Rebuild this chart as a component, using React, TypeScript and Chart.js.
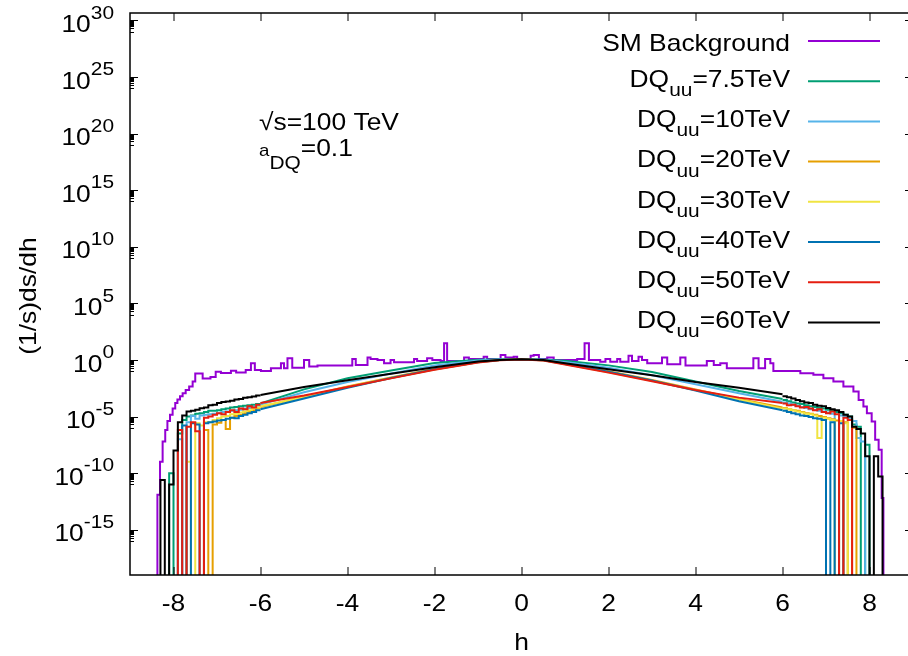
import React, { useEffect, useRef } from 'react';
import { Chart, registerables } from 'chart.js';

Chart.register(...registerables);

// ---------- axes ----------
const X_MIN = -9;
const X_MAX = 9;
const Y_MIN_EXP = -19;
const Y_MAX_EXP = 30.65;
const X_TICKS = [-8, -6, -4, -2, 0, 2, 4, 6, 8];
const Y_TICK_EXPS = [30, 25, 20, 15, 10, 5, 0, -5, -10, -15];

// value used for empty histogram bins (below the axis range)
const EMPTY = 1e-30;

// ---------- SM background histogram: [bin start h, log10 value | null] ----------
const smBins: [number, number | null][] = [
  [-9.0, null], [-8.37, -11.9], [-8.31, -9.0], [-8.25, -7.2], [-8.19, -6.2], [-8.14, -5.4],
  [-8.08, -4.85], [-8.02, -4.3], [-7.96, -3.8], [-7.91, -3.5], [-7.85, -3.2], [-7.79, -2.95],
  [-7.72, -2.65], [-7.64, -2.35], [-7.56, -1.9], [-7.5, -1.2], [-7.33, -1.65], [-7.15, -1.5],
  [-7.03, -1.05], [-6.91, -1.15], [-6.68, -0.95], [-6.56, -1.1], [-6.34, -0.88], [-6.22, -0.3],
  [-6.13, -0.9], [-5.99, -0.97], [-5.76, -0.74], [-5.53, -0.3], [-5.46, -0.74], [-5.38, 0.15],
  [-5.27, -0.68], [-5.0, 0.0], [-4.88, -0.59], [-4.69, -0.5], [-3.89, 0.09], [-3.81, -0.44],
  [-3.54, 0.21], [-3.47, 0.09], [-3.31, 0.0], [-3.16, -0.29], [-3.01, 0.0], [-2.93, -0.21],
  [-2.47, 0.09], [-2.4, -0.09], [-2.17, 0.15], [-2.05, 0.0], [-1.86, -0.09], [-1.78, 1.47],
  [-1.71, -0.09], [-1.32, 0.21], [-1.21, 0.09], [-0.87, 0.29], [-0.79, 0.09], [-0.48, 0.44],
  [-0.37, 0.21], [-0.18, 0.29], [-0.1, 0.09], [0.21, 0.38], [0.28, 0.44], [0.4, 0.09],
  [0.59, 0.21], [0.74, 0.0], [1.28, 0.09], [1.45, 1.47], [1.55, 0.0], [1.81, -0.15],
  [1.93, 0.09], [2.04, -0.15], [2.2, 0.09], [2.27, -0.15], [2.46, 0.38], [2.54, -0.09],
  [2.69, 0.29], [2.77, 0.0], [2.89, -0.29], [3.23, 0.21], [3.35, -0.38], [3.65, 0.21],
  [3.77, -0.5], [4.26, -0.09], [4.42, -0.44], [4.57, -0.29], [4.72, -0.74], [5.33, 0.15],
  [5.45, -0.74], [5.6, 0.09], [5.72, -0.29], [5.79, -0.97], [6.41, -1.18], [6.71, -1.3],
  [6.94, -1.62], [7.17, -1.91], [7.4, -2.35], [7.63, -2.79], [7.75, -3.53], [7.86, -4.12],
  [7.94, -4.71], [8.05, -5.44], [8.13, -7.06], [8.21, -7.94], [8.28, -12.2], [8.32, null],
];
const SM_END = 9;

// ---------- DQ histograms ----------
// edge regions: 0.1-wide bins, log10 values (null = empty bin)
const EDGE_BIN = 0.1;
const LEFT_EDGE_START = -8.4; // 24 bins up to -6.0
const RIGHT_EDGE_START = 6.0; // 24 bins up to 8.4
// central region: log10 values at these h
const MID_H = [-6, -5, -4, -3, -2, -1, -0.5, 0, 0.5, 1, 2, 3, 4, 5, 6];

const dq75Left = [null, null, null, -10.0, null, -6.5, -5.3, -5.0, -4.9, -4.75, -4.7, -4.6, -4.5, -4.5, -4.45, -4.35, -4.3, -4.2, -4.15, -4.1, -4.05, -4.0, -3.95, -3.9];
const dq75Mid = [-3.85, -2.6, -1.62, -0.93, -0.28, 0.02, 0.05, 0.05, 0.03, -0.08, -0.48, -1.07, -1.9, -2.75, -3.45];
const dq75Right = [-3.55, -3.65, -3.75, -3.85, -3.9, -4.0, -4.1, -4.15, -4.25, -4.3, -4.4, -4.5, -4.6, -4.7, -4.85, -5.0, -5.7, -5.9, null, -7.5, null, null, null, null];

const dq10Left = [null, null, null, null, null, -7.0, null, -5.5, -4.95, -5.2, -4.9, -4.85, -4.8, -4.75, -4.7, -4.6, -4.55, -4.5, -4.45, -4.4, -4.3, -4.25, -4.15, -4.05];
const dq10Mid = [-3.95, -2.85, -1.95, -1.2, -0.5, -0.06, 0.03, 0.04, 0.02, -0.18, -0.7, -1.35, -2.15, -2.95, -3.7];
const dq10Right = [-3.75, -3.85, -3.95, -4.05, -4.15, -4.25, -4.35, -4.4, -4.5, -4.55, -4.65, -4.75, null, -4.9, -5.0, -5.2, -5.4, -6.9, -7.2, null, null, null, null, null];

const dq20Left = [null, null, null, null, null, null, null, null, null, null, null, -6.2, null, -5.7, -5.55, -5.3, -6.1, -5.1, -4.95, -4.85, -4.7, -4.6, -4.45, -4.3];
const dq20Mid = [-4.15, -3.25, -2.35, -1.55, -0.78, -0.18, 0.0, 0.03, -0.02, -0.32, -1.0, -1.78, -2.6, -3.45, -4.2];
const dq20Right = [-4.25, -4.35, -4.45, -4.5, -4.6, -4.7, -4.75, -4.85, -4.95, -5.05, -5.15, -5.25, -5.35, null, -5.5, null, -6.0, null, null, null, null, null, null, null];

const dq30Left = [null, null, null, null, null, null, null, -9.0, null, -5.6, -5.8, -5.5, -5.5, -5.3, -5.15, -5.0, -4.95, -4.8, -4.75, -4.65, -4.55, -4.45, -4.3, -4.2];
const dq30Mid = [-4.1, -3.3, -2.4, -1.6, -0.84, -0.2, 0.0, 0.03, -0.03, -0.36, -1.08, -1.85, -2.65, -3.5, -4.3];
const dq30Right = [-4.3, -4.35, -4.45, -4.55, -4.65, -4.75, -4.8, -4.9, -6.9, -5.1, -5.2, -5.3, null, -5.4, -5.6, null, null, null, null, null, null, null, null, null];

const dq40Left = [null, null, null, null, null, null, -5.8, null, -5.6, -5.7, null, -5.6, -5.5, -5.45, -5.35, -5.3, -5.2, -5.1, -5.15, -4.95, -4.85, -4.7, -4.6, -4.45];
const dq40Mid = [-4.35, -3.4, -2.45, -1.6, -0.82, -0.2, 0.0, 0.03, -0.03, -0.35, -1.05, -1.82, -2.7, -3.65, -4.45];
const dq40Right = [-4.5, -4.6, -4.7, -4.8, -4.9, -4.95, -5.05, -5.15, -5.2, -5.3, null, -5.5, null, -5.6, null, null, null, null, null, null, null, null, null, null];

const dq50Left = [null, null, null, null, null, -6.2, null, -5.9, -5.5, -6.3, null, -5.1, -5.0, -4.85, -4.7, -4.8, -4.6, -4.45, -4.6, -4.3, -4.35, -4.1, -4.2, -3.95];
const dq50Mid = [-3.8, -3.15, -2.4, -1.63, -0.87, -0.22, -0.02, 0.03, -0.05, -0.4, -1.12, -1.88, -2.65, -3.33, -3.8];
const dq50Right = [-3.85, -4.0, -3.95, -4.1, -4.2, -4.15, -4.3, -4.45, -4.35, -4.6, -4.7, -4.55, -4.8, null, -5.1, -5.3, null, null, null, null, null, null, null, null];

const dq60Left = [null, -10.6, null, -11.0, -8.0, -5.5, -4.9, -4.55, -4.5, -4.4, -4.27, -4.2, -4.0, -3.95, -3.8, -3.72, -3.68, -3.6, -3.5, -3.45, -3.35, -3.3, -3.22, -3.15];
const dq60Mid = [-3.1, -2.4, -1.8, -1.23, -0.65, -0.14, 0.0, 0.05, 0.0, -0.3, -0.83, -1.36, -1.95, -2.45, -3.03];
const dq60Right = [-3.2, -3.3, -3.4, -3.55, -3.65, -3.75, -3.8, -3.95, -4.05, -4.1, -4.25, -4.35, -4.45, -4.6, -4.85, -5.0, -5.9, -6.1, -6.5, -8.5, null, -8.5, -10.3, null];

const SM_LABEL = 'SM Background';
const SM_COLOR = '#9400d3';

const DQ_VALUES = ['=7.5TeV', '=10TeV', '=20TeV', '=30TeV', '=40TeV', '=50TeV', '=60TeV'];
const DQ_COLORS = ['#009e73', '#56b4e9', '#e69f00', '#f0e442', '#0072b2', '#e51e10', '#000000'];
const DQ_LEFT = [dq75Left, dq10Left, dq20Left, dq30Left, dq40Left, dq50Left, dq60Left];
const DQ_MID = [dq75Mid, dq10Mid, dq20Mid, dq30Mid, dq40Mid, dq50Mid, dq60Mid];
const DQ_RIGHT = [dq75Right, dq10Right, dq20Right, dq30Right, dq40Right, dq50Right, dq60Right];

// ---------- layout ----------
const CANVAS_W = 930;
const CANVAS_H = 656;
const AREA = { left: 130, top: 13, right: 913, bottom: 575 };
const FONT = '"Liberation Sans", Arial, Helvetica, sans-serif';
const SX = 1.1;
const MAIN = 24;
const SMALL = 19;

const toVal = (v: number | null) => (v === null ? EMPTY : Math.pow(10, v));
const r3 = (v: number) => Math.round(v * 1000) / 1000;

function binsToPoints(start: number, vals: (number | null)[]) {
  const pts = vals.map((v, i) => ({ x: r3(start + i * EDGE_BIN), y: toVal(v) }));
  pts.push({ x: r3(start + vals.length * EDGE_BIN), y: pts[pts.length - 1].y });
  return pts;
}

type Seg = { t: string; size: number; dy?: number };

function drawRich(ctx: CanvasRenderingContext2D, segs: Seg[], x: number, y: number, align: 'left' | 'right' | 'center') {
  const widths = segs.map((s) => {
    ctx.font = `${s.size}px ${FONT}`;
    return ctx.measureText(s.t).width * SX;
  });
  const total = widths.reduce((a, b) => a + b, 0);
  let cx = align === 'right' ? x - total : align === 'center' ? x - total / 2 : x;
  segs.forEach((s, i) => {
    ctx.save();
    ctx.font = `${s.size}px ${FONT}`;
    ctx.textAlign = 'left';
    ctx.textBaseline = 'alphabetic';
    ctx.fillStyle = '#000';
    ctx.translate(cx, y + (s.dy || 0));
    ctx.scale(SX, 1);
    ctx.fillText(s.t, 0, 0);
    ctx.restore();
    cx += widths[i];
  });
}

const gnuplotDecor = {
  id: 'gnuplotDecor',
  afterDraw(chart: any) {
    const ctx: CanvasRenderingContext2D = chart.ctx;
    const a = chart.chartArea;
    const xs = chart.scales.x;
    const ys = chart.scales.y;
    ctx.save();

    // tick marks (inward, mirrored)
    ctx.strokeStyle = '#000';
    ctx.lineWidth = 1;
    ctx.beginPath();
    X_TICKS.forEach((v) => {
      const px = Math.round(xs.getPixelForValue(v));
      ctx.moveTo(px, a.bottom);
      ctx.lineTo(px, a.bottom - 8);
      ctx.moveTo(px, a.top);
      ctx.lineTo(px, a.top + 8);
    });
    Y_TICK_EXPS.forEach((e) => {
      const py = Math.round(ys.getPixelForValue(Math.pow(10, e))) + 0.5;
      ctx.moveTo(a.left, py);
      ctx.lineTo(a.left + 8, py);
      ctx.moveTo(a.right, py);
      ctx.lineTo(a.right - 8, py);
      for (let k = 1; k <= 9; k++) {
        const pm = Math.round(ys.getPixelForValue(k * Math.pow(10, e - 1))) + 0.5;
        if (pm > a.bottom) continue;
        ctx.moveTo(a.left, pm);
        ctx.lineTo(a.left + 4, pm);
        ctx.moveTo(a.right, pm);
        ctx.lineTo(a.right - 4, pm);
      }
    });
    ctx.stroke();

    // frame
    ctx.lineWidth = 1.5;
    ctx.strokeRect(a.left, a.top, a.right - a.left, a.bottom - a.top);

    // x tick labels
    X_TICKS.forEach((v) => {
      drawRich(ctx, [{ t: String(v), size: MAIN }], xs.getPixelForValue(v), a.bottom + 35.5, 'center');
    });
    // y tick labels
    Y_TICK_EXPS.forEach((e) => {
      const py = ys.getPixelForValue(Math.pow(10, e));
      drawRich(ctx, [{ t: '10', size: MAIN }, { t: String(e), size: SMALL, dy: -13.4 }], 114, py + 11.7, 'right');
    });
    // axis titles
    drawRich(ctx, [{ t: 'h', size: MAIN }], xs.getPixelForValue(0), 650, 'center');
    ctx.save();
    ctx.translate(36, (a.top + a.bottom) / 2 + 2);
    ctx.rotate(-Math.PI / 2);
    drawRich(ctx, [{ t: '(1/s)ds/dh', size: MAIN }], 0, 0, 'center');
    ctx.restore();

    // annotations
    drawRich(ctx, [{ t: '\u221As=100 TeV', size: MAIN }], 259, 130, 'left');
    drawRich(ctx, [{ t: 'a', size: 17 }, { t: 'DQ', size: SMALL, dy: 12.5 }, { t: '=0.1', size: MAIN }], 259, 156, 'left');

    // legend
    const LX_TEXT = 790;
    const LX0 = 808;
    const LX1 = 880;
    const LY0 = 41;
    const LDY = 40.2;
    ctx.lineWidth = 2;
    ctx.strokeStyle = SM_COLOR;
    ctx.beginPath();
    ctx.moveTo(LX0, LY0);
    ctx.lineTo(LX1, LY0);
    ctx.stroke();
    drawRich(ctx, [{ t: SM_LABEL, size: MAIN }], LX_TEXT, LY0 + 9.5, 'right');
    DQ_VALUES.forEach((val, i) => {
      const ly = LY0 + LDY * (i + 1);
      ctx.strokeStyle = DQ_COLORS[i];
      ctx.beginPath();
      ctx.moveTo(LX0, ly);
      ctx.lineTo(LX1, ly);
      ctx.stroke();
      drawRich(
        ctx,
        [{ t: 'DQ', size: MAIN }, { t: 'uu', size: SMALL, dy: 9.3 }, { t: val, size: MAIN }],
        LX_TEXT,
        ly + 5.7,
        'right'
      );
    });

    ctx.restore();
  },
};

export default function App() {
  const canvasRef = useRef<HTMLCanvasElement | null>(null);

  useEffect(() => {
    const canvas = canvasRef.current;
    if (!canvas) return;

    const smPoints = smBins.map(([x, v]) => ({ x, y: toVal(v) }));
    smPoints.push({ x: SM_END, y: smPoints[smPoints.length - 1].y });

    const datasets: any[] = [
      {
        data: smPoints,
        borderColor: SM_COLOR,
        borderWidth: 2,
        stepped: true,
        order: 10,
      },
    ];
    DQ_COLORS.forEach((color, i) => {
      const order = 9 - i;
      datasets.push({ data: binsToPoints(LEFT_EDGE_START, DQ_LEFT[i]), borderColor: color, borderWidth: 2, stepped: true, order });
      datasets.push({
        data: MID_H.map((h, j) => ({ x: h, y: toVal(DQ_MID[i][j]) })),
        borderColor: color,
        borderWidth: 2,
        stepped: false,
        order,
      });
      datasets.push({ data: binsToPoints(RIGHT_EDGE_START, DQ_RIGHT[i]), borderColor: color, borderWidth: 2, stepped: true, order });
    });

    const chart = new Chart(canvas, {
      type: 'line',
      data: { datasets },
      options: {
        responsive: false,
        animation: false,
        devicePixelRatio: 1,
        events: [],
        layout: {
          padding: {
            left: AREA.left,
            top: AREA.top,
            right: CANVAS_W - AREA.right,
            bottom: CANVAS_H - AREA.bottom,
          },
        },
        scales: {
          x: { type: 'linear', min: X_MIN, max: X_MAX, display: false },
          y: { type: 'logarithmic', min: Math.pow(10, Y_MIN_EXP), max: Math.pow(10, Y_MAX_EXP), display: false },
        },
        elements: { point: { radius: 0 }, line: { tension: 0, fill: false } },
        plugins: { legend: { display: false }, tooltip: { enabled: false } },
      },
      plugins: [gnuplotDecor],
    } as any);

    return () => chart.destroy();
  }, []);

  return (
    <div style={{ position: 'fixed', left: 0, top: 0, width: 908, height: 656, overflow: 'hidden', background: '#fff' }}>
      <canvas ref={canvasRef} width={CANVAS_W} height={CANVAS_H} style={{ display: 'block', width: CANVAS_W, height: CANVAS_H }} />
    </div>
  );
}
